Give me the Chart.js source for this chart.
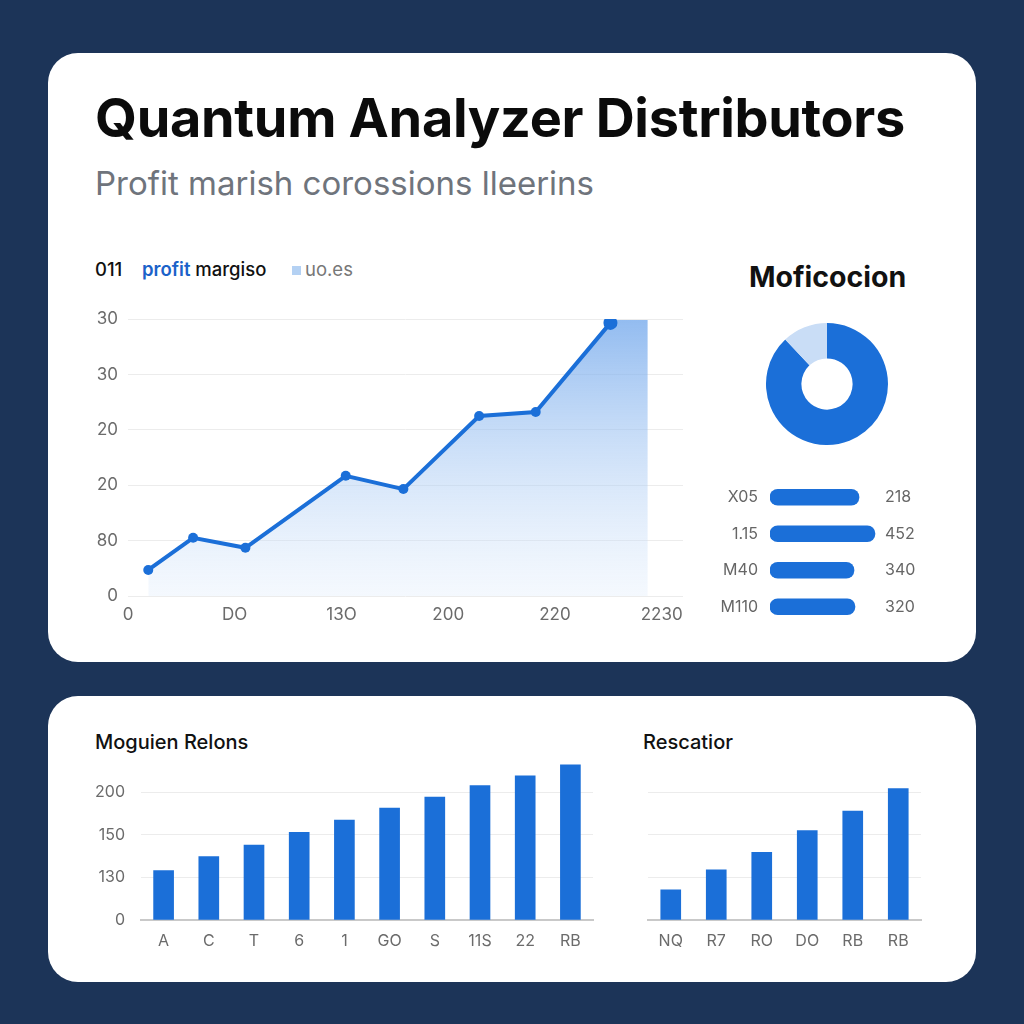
<!DOCTYPE html>
<html lang="en">
<head>
  <meta charset="UTF-8" />
  <title>Quantum Analyzer Distributors</title>
  <script src="https://cdn.jsdelivr.net/npm/chart.js"></script>
  <style>
    html, body {
      margin: 0;
      padding: 0;
    }
    body {
      width: 1024px;
      height: 1024px;
      background: #1c3458;
      font-family: Inter, "Noto Sans", Arial, sans-serif;
      position: relative;
      overflow: hidden;
    }
    .card {
      position: absolute;
      left: 48px;
      width: 928px;
      background: #ffffff;
      border-radius: 30px;
    }
    .abs { position: absolute; }
    h1 {
      position: absolute;
      left: 95px;
      top: 86px;
      margin: 0;
      font-size: 54px;
      font-weight: 700;
      letter-spacing: -0.3px;
      line-height: 1.2;
      color: #0b0b0b;
      white-space: nowrap;
    }
    .sub {
      position: absolute;
      left: 95px;
      top: 163px;
      font-size: 33px;
      color: #6f747c;
      white-space: nowrap;
    }
    .lg {
      position: absolute;
      top: 258px;
      font-size: 18.5px;
      font-weight: 500;
      color: #111;
      white-space: nowrap;
    }
    .lg .blue { color: #1b62c9; font-weight: 600; }
    .sq {
      position: absolute;
      left: 292px;
      top: 266px;
      width: 9px;
      height: 9px;
      background: #b4d1f3;
    }
    .panel-title {
      position: absolute;
      font-size: 20px;
      font-weight: 500;
      color: #111;
      white-space: nowrap;
    }
  </style>
</head>
<body>
  <div class="card" style="top:53px;height:609px;"></div>
  <div class="card" style="top:696px;height:286px;"></div>

  <h1>Quantum Analyzer Distributors</h1>
  <div class="sub">Profit marish corossions lleerins</div>

  <div class="lg" style="left:95px;">011</div>
  <div class="lg" style="left:142px;"><span class="blue">profit</span> margiso</div>
  <div class="sq"></div>
  <div class="lg" style="left:305px;color:#777;font-weight:400;">uo.es</div>

  <div class="abs" style="left:90px;top:300px;width:600px;height:330px;">
    <canvas id="lineChart"></canvas>
  </div>

  <div class="panel-title" style="left:749px;top:259px;font-size:28.5px;font-weight:700;">Moficocion</div>
  <div class="abs" style="left:766px;top:323px;width:122px;height:122px;">
    <canvas id="donutChart"></canvas>
  </div>

  <div class="abs" style="left:700px;top:475px;width:260px;height:150px;">
    <canvas id="hbarChart"></canvas>
  </div>

  <div class="panel-title" style="left:95px;top:730px;">Moguien Relons</div>
  <div class="abs" style="left:80px;top:750px;width:530px;height:205px;">
    <canvas id="barLeft"></canvas>
  </div>

  <div class="panel-title" style="left:643px;top:730px;">Rescatior</div>
  <div class="abs" style="left:620px;top:750px;width:330px;height:205px;">
    <canvas id="barRight"></canvas>
  </div>

  <script>
    // ---- data ----
    const lineYTickLabels = ['0', '80', '20', '20', '30', '30'];
    const lineXTickLabels = ['0', 'DO', '13O', '200', '220', '2230'];
    const profitX = [0.19, 0.61, 1.10, 2.04, 2.58, 3.29, 3.82, 4.52];
    const profitY = [0.47, 1.05, 0.87, 2.17, 1.93, 3.25, 3.32, 4.93];
    const shadeX = [0.19, 0.61, 1.10, 2.04, 2.58, 3.29, 3.82, 4.52, 4.87];
    const shadeY = [0.47, 1.05, 0.87, 2.17, 1.93, 3.25, 3.32, 4.98, 4.98];

    const donutLabels = ['main', 'rest'];
    const donutValues = [88, 12];

    const hbarLabels = ['X05', '1.15', 'M40', 'M110'];
    const hbarValues = [89, 105, 84, 85];
    const hbarValueLabels = ['218', '452', '340', '320'];

    const leftCats = ['A', 'C', 'T', '6', '1', 'GO', 'S', '11S', '22', 'RB'];
    const leftValues = [1.16, 1.49, 1.76, 2.06, 2.35, 2.63, 2.89, 3.16, 3.39, 3.65];
    const leftYTickLabels = ['0', '130', '150', '200'];

    const rightCats = ['NQ', 'R7', 'RO', 'DO', 'RB', 'RB'];
    const rightValues = [0.71, 1.18, 1.59, 2.10, 2.56, 3.09];

    const BLUE = '#1b6fd8';
    const TICK = '#6b6b6b';
    const GRID = '#ececec';

    Chart.defaults.font.family = 'Inter, "Noto Sans", Arial, sans-serif';
    Chart.defaults.animation = false;
    Chart.defaults.responsive = true;
    Chart.defaults.maintainAspectRatio = false;
    Chart.defaults.plugins.legend.display = false;
    Chart.defaults.plugins.tooltip.enabled = false;

    // fixed width for vertical axes, and no extra label padding above/below
    function fixY(width) {
      return s => {
        s.width = width;
        s.paddingTop = 0;
        s.paddingBottom = 0;
      };
    }

    // line / area chart
    function shadeGradient(ctx) {
      const area = ctx.chart.chartArea;
      if (!area) return 'rgba(120,170,235,0.5)';
      const g = ctx.chart.ctx.createLinearGradient(0, area.top, 0, area.bottom);
      g.addColorStop(0, 'rgba(110,165,235,0.75)');
      g.addColorStop(1, 'rgba(220,234,251,0.3)');
      return g;
    }

    new Chart(document.getElementById('lineChart'), {
      type: 'line',
      data: {
        datasets: [
          {
            label: 'profit margiso',
            data: profitX.map((x, i) => ({ x: x, y: profitY[i] })),
            borderColor: BLUE,
            backgroundColor: BLUE,
            borderWidth: 4,
            pointRadius: [5, 5, 5, 5, 5, 5, 5, 7],
            pointBackgroundColor: BLUE,
            pointBorderWidth: 0,
            fill: false,
            tension: 0,
            order: 0
          },
          {
            label: 'uo.es',
            data: shadeX.map((x, i) => ({ x: x, y: shadeY[i] })),
            borderWidth: 0,
            pointRadius: 0,
            backgroundColor: shadeGradient,
            fill: 'origin',
            tension: 0,
            order: 1
          }
        ]
      },
      options: {
        layout: { padding: { top: 19, right: 7, left: 0, bottom: 0 } },
        scales: {
          x: {
            type: 'linear',
            min: 0,
            max: 5.2,
            grid: { display: false },
            border: { display: false },
            ticks: {
              stepSize: 1,
              includeBounds: false,
              color: TICK,
              font: { size: 17 },
              padding: 1,
              callback: v => lineXTickLabels[v]
            },
            afterFit: s => { s.height = 34; }
          },
          y: {
            min: 0,
            max: 5,
            grid: { color: GRID, drawTicks: false },
            border: { display: false },
            ticks: {
              stepSize: 1,
              color: TICK,
              font: { size: 17 },
              padding: 10,
              callback: v => lineYTickLabels[v]
            },
            afterFit: fixY(38)
          }
        }
      }
    });

    // doughnut
    new Chart(document.getElementById('donutChart'), {
      type: 'doughnut',
      data: {
        labels: donutLabels,
        datasets: [{
          data: donutValues,
          backgroundColor: [BLUE, '#c9ddf6'],
          borderWidth: 0
        }]
      },
      options: { cutout: '42%' }
    });

    // horizontal bars
    new Chart(document.getElementById('hbarChart'), {
      type: 'bar',
      data: {
        labels: hbarLabels,
        datasets: [{
          data: hbarValues,
          backgroundColor: BLUE,
          barThickness: 16,
          borderRadius: 8,
          borderSkipped: false
        }]
      },
      options: {
        indexAxis: 'y',
        layout: { padding: { top: 4, bottom: 0, left: 0, right: 0 } },
        scales: {
          x: { min: 0, max: 110, display: false },
          y: {
            grid: { display: false },
            border: { display: false },
            ticks: { color: '#666', font: { size: 16 }, padding: 4 },
            afterFit: fixY(70)
          },
          y2: {
            type: 'category',
            position: 'right',
            labels: hbarValueLabels,
            offset: true,
            grid: { display: false },
            border: { display: false },
            ticks: { color: '#666', font: { size: 16 }, padding: -3 },
            afterFit: fixY(80)
          }
        }
      }
    });

    // bottom bar charts
    function barOptions(yWidth, padRight, showY) {
      return {
        layout: { padding: { top: 10.5, right: padRight, left: 0, bottom: 0 } },
        scales: {
          x: {
            grid: { display: false },
            border: { display: true, color: '#c9c9c9', width: 2 },
            ticks: { color: TICK, font: { size: 16 }, padding: 4 },
            afterFit: s => { s.height = 35; }
          },
          y: {
            min: 0,
            max: 3.75,
            grid: { color: GRID, drawTicks: false },
            border: { display: false },
            ticks: {
              display: showY,
              stepSize: 1,
              includeBounds: false,
              color: TICK,
              font: { size: 16 },
              padding: 16,
              callback: v => leftYTickLabels[v]
            },
            afterFit: fixY(yWidth)
          }
        }
      };
    }

    new Chart(document.getElementById('barLeft'), {
      type: 'bar',
      data: {
        labels: leftCats,
        datasets: [{ data: leftValues, backgroundColor: BLUE, barThickness: 20 }]
      },
      options: barOptions(61, 17, true)
    });

    new Chart(document.getElementById('barRight'), {
      type: 'bar',
      data: {
        labels: rightCats,
        datasets: [{ data: rightValues, backgroundColor: BLUE, barThickness: 20 }]
      },
      options: barOptions(28, 29, false)
    });
  </script>
</body>
</html>
